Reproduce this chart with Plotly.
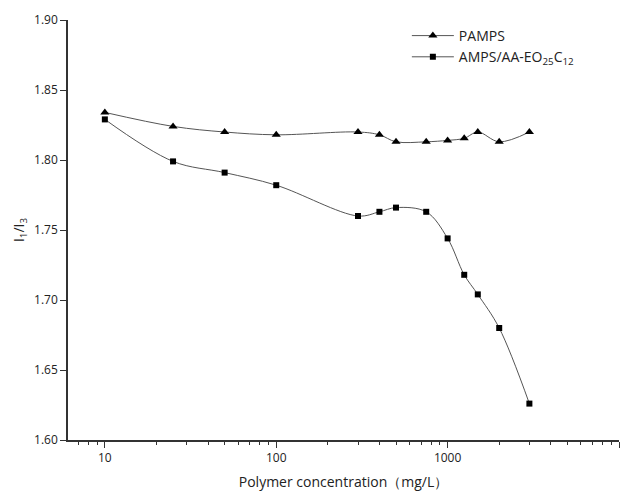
import plotly.graph_objects as go

conc = [10, 25, 50, 100, 300, 400, 500, 750, 1000, 1250, 1500, 2000, 3000]
pamps = [1.834, 1.824, 1.820, 1.818, 1.820, 1.818, 1.813, 1.813, 1.814, 1.8155, 1.820, 1.813, 1.820]
amps_aa = [1.829, 1.799, 1.791, 1.782, 1.760, 1.763, 1.766, 1.763, 1.744, 1.718, 1.704, 1.680, 1.626]

font_family = "Open Sans, Noto Sans, DejaVu Sans, sans-serif"

fig = go.Figure()
fig.add_trace(go.Scatter(
    x=conc, y=pamps, mode="lines+markers", name="PAMPS",
    line=dict(color="#555555", width=1, shape="spline", smoothing=1.0),
    marker=dict(symbol="triangle-up", size=8, color="black"),
))
fig.add_trace(go.Scatter(
    x=conc, y=amps_aa, mode="lines+markers", name="AMPS/AA-EO<sub>25</sub>C<sub>12</sub>",
    line=dict(color="#555555", width=1, shape="spline", smoothing=1.0),
    marker=dict(symbol="square", size=6, color="black"),
))

fig.update_layout(
    width=636, height=493,
    margin=dict(l=68, r=17, t=20, b=53),
    paper_bgcolor="white", plot_bgcolor="white",
    font=dict(family=font_family, size=12, color="#222222"),
    showlegend=True,
    legend=dict(x=0.615, y=1.0, xanchor="left", yanchor="top",
                bgcolor="rgba(0,0,0,0)", font=dict(size=14),
                itemwidth=42, tracegroupgap=0),
    xaxis=dict(
        type="log", range=[0.785, 4.0], automargin=False,
        tickvals=[10, 100, 1000, 10000], ticktext=["10", "100", "1000", "10000"],
        ticks="outside", ticklen=6, tickwidth=1, tickcolor="#333",
        showline=True, linecolor="#333", linewidth=1.5,
        showgrid=False, zeroline=False,
        minor=dict(ticks="outside", ticklen=3, tickcolor="#333", showgrid=False,
                   tickvals=[7, 8, 9, 20, 30, 40, 50, 60, 70, 80, 90,
                             200, 300, 400, 500, 600, 700, 800, 900,
                             2000, 3000, 4000, 5000, 6000, 7000, 8000, 9000]),
        title=dict(text="Polymer concentration（mg/L）", font=dict(size=14), standoff=12),
        tickfont=dict(size=12),
    ),
    yaxis=dict(
        range=[1.60, 1.90], dtick=0.05, tickformat=".2f", automargin=False,
        ticks="outside", ticklen=6, tickwidth=1, tickcolor="#333",
        showline=True, linecolor="#333", linewidth=1.5,
        showgrid=False, zeroline=False,
        title=dict(text="I<sub>1</sub>/I<sub>3</sub>", font=dict(size=14), standoff=6),
        tickfont=dict(size=12),
    ),
)

fig.write_html("out.html")
